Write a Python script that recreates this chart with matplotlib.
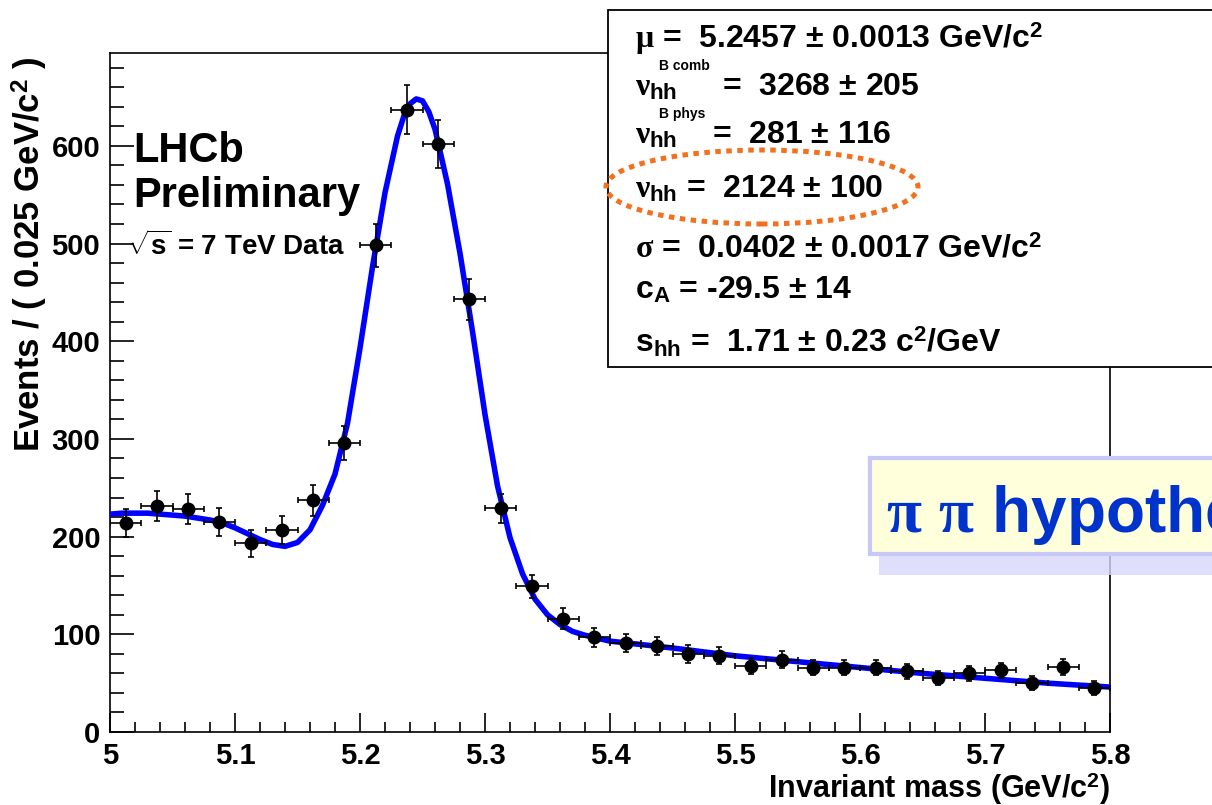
import numpy as np
import matplotlib.pyplot as plt
from matplotlib.patches import Rectangle, Ellipse
from matplotlib.ticker import MultipleLocator, FuncFormatter

# --- data ---
BIN_WIDTH = 0.025
bin_centers = [5.0125, 5.0375, 5.0625, 5.0875, 5.1125, 5.1375, 5.1625, 5.1875,
               5.2125, 5.2375, 5.2625, 5.2875, 5.3125, 5.3375, 5.3625, 5.3875,
               5.4125, 5.4375, 5.4625, 5.4875, 5.5125, 5.5375, 5.5625, 5.5875,
               5.6125, 5.6375, 5.6625, 5.6875, 5.7125, 5.7375, 5.7625, 5.7875]
counts = [214, 231, 228, 215, 193, 207, 237, 296,
          498, 637, 602, 443, 229, 149, 116, 97,
          91, 88, 80, 78, 68, 74, 66, 66,
          66, 62, 55, 60, 63, 50, 67, 45]
count_err = [14.6, 15.2, 15.1, 14.7, 13.9, 14.4, 15.4, 17.2,
             22.3, 25.2, 24.5, 21.0, 15.1, 12.2, 10.8, 9.8,
             9.5, 9.4, 8.9, 8.8, 8.2, 8.6, 8.1, 8.1,
             8.1, 7.9, 7.4, 7.7, 7.9, 7.1, 8.2, 6.7]

# fit curve (sampled from the plot)
curve_x = [5.00, 5.01, 5.02, 5.03, 5.04, 5.05, 5.06, 5.07, 5.08, 5.09,
           5.10, 5.11, 5.12, 5.13, 5.14, 5.15, 5.16, 5.17, 5.18, 5.19,
           5.20, 5.21, 5.22, 5.23, 5.235, 5.24, 5.245, 5.25, 5.255, 5.26,
           5.27, 5.28, 5.29, 5.30, 5.31, 5.32, 5.33, 5.34, 5.35, 5.36,
           5.37, 5.38, 5.39, 5.40, 5.45, 5.50, 5.55, 5.60, 5.65, 5.70,
           5.75, 5.80]
curve_y = [223, 224, 224, 224, 223, 222, 221, 219, 217, 214,
           209, 203, 197, 192, 190, 194, 207, 232, 264, 316,
           393, 476, 552, 610, 630, 643, 648, 646, 635, 617,
           561, 490, 410, 325, 252, 199, 162, 136, 120, 110,
           103, 99, 96, 93, 86, 78, 72, 66, 60, 55,
           50, 46]

# fit result box: (left part, right part or None, baseline px, x of right part)
fit_rows = [
    (r"$\mu$ =  5.2457 $\pm$ 0.0013 GeV/c$^{2}$", None, 48, None),
    (r"$\nu_{\mathrm{hh}}$", r"=  3268 $\pm$ 205", 95, 722),
    (r"$\nu_{\mathrm{hh}}$", r"=  281 $\pm$ 116", 143, 712),
    (r"$\nu_{\mathrm{hh}}$ =  2124 $\pm$ 100", None, 197, None),
    (r"$\sigma$ =  0.0402 $\pm$ 0.0017 GeV/c$^{2}$", None, 257, None),
    (r"c$_{\mathrm{A}}$ = -29.5 $\pm$ 14", None, 298, None),
    (r"s$_{\mathrm{hh}}$ =  1.71 $\pm$ 0.23 c$^{2}$/GeV", None, 352, None),
]
fit_superscripts = [("B comb", 70), ("B phys", 118)]

plt.rcParams['font.family'] = ['Liberation Sans', 'DejaVu Sans']
plt.rcParams['font.weight'] = 'bold'
plt.rcParams['axes.labelweight'] = 'bold'
plt.rcParams['mathtext.fontset'] = 'custom'
plt.rcParams['mathtext.rm'] = 'Liberation Sans:bold'
plt.rcParams['mathtext.bf'] = 'Liberation Sans:bold'
plt.rcParams['mathtext.sf'] = 'Liberation Sans:bold'
plt.rcParams['mathtext.it'] = 'Liberation Serif'

W, H = 1212, 805
fig = plt.figure(figsize=(W / 100, H / 100), dpi=100)
ax = fig.add_axes([110 / W, 1 - 732 / H, 1000 / W, 679 / H])


def fx(px):
    return px / W


def fy(py):
    return 1 - py / H


ax.plot(curve_x, curve_y, color='#0000ff', lw=4, zorder=3,
        solid_joinstyle='round')
ax.errorbar(bin_centers, counts, yerr=count_err, xerr=BIN_WIDTH / 2,
            fmt='o', color='black', ms=9, lw=1.2, capsize=2.5, capthick=1.2,
            zorder=4)

ax.set_xlim(5.0, 5.8)
ax.set_ylim(0, 695)
ax.xaxis.set_major_locator(MultipleLocator(0.1))
ax.xaxis.set_minor_locator(MultipleLocator(0.02))
ax.yaxis.set_major_locator(MultipleLocator(100))
ax.yaxis.set_minor_locator(MultipleLocator(20))
ax.xaxis.set_major_formatter(FuncFormatter(lambda v, p: f"{v:g}"))
ax.tick_params(which='both', direction='in', top=False, right=False,
               width=1.2, labelsize=21)
ax.tick_params(axis='y', which='major', length=17, pad=7)
ax.tick_params(axis='y', which='minor', length=10)
ax.tick_params(axis='x', which='major', length=14, pad=7)
ax.tick_params(axis='x', which='minor', length=7)
for s in ax.spines.values():
    s.set_linewidth(1.2)

ax.set_xlabel(r"Invariant mass (GeV/c$^{2}$)", fontsize=22, ha='right',
              va='baseline')
ax.xaxis.set_label_coords(1.0, -0.097)
ax.set_ylabel(r"Events / ( 0.025 GeV/c$^{2}$ )", fontsize=25, ha='right',
              va='center')
ax.yaxis.set_label_coords(-0.08, 0.995)

# LHCb labels
fig.text(fx(133), fy(162), "LHCb", fontsize=30, va='baseline')
fig.text(fx(133), fy(207), "Preliminary", fontsize=30, va='baseline')
fig.text(fx(127), fy(255), r"$\sqrt{\mathrm{s}}$ = 7 TeV Data", fontsize=20,
         va='baseline')

# fit parameter box
fig.add_artist(Rectangle((fx(608), fy(367)), 0.6, (367 - 10) / H,
                         transform=fig.transFigure, fc='white', ec='black',
                         lw=1.3, zorder=10))
for left, right, yb, xr in fit_rows:
    fig.text(fx(635), fy(yb), left, fontsize=23, va='baseline', zorder=11)
    if right is not None:
        fig.text(fx(xr), fy(yb), right, fontsize=23, va='baseline', zorder=11)
for sup, yb in fit_superscripts:
    fig.text(fx(659), fy(yb), sup, fontsize=10, va='baseline', zorder=11)

fig.add_artist(Ellipse((fx(762), fy(187)), 312 / W, 74 / H,
                       transform=fig.transFigure, fill=False, ec='#f2701e',
                       lw=3.6, ls=(0, (1.1, 1.1)), zorder=12))

# hypothesis label
fig.add_artist(Rectangle((fx(879), fy(575)), 0.5, (575 - 476) / H,
                         transform=fig.transFigure, fc='#d8d8fa', ec='none',
                         alpha=0.8, zorder=13))
fig.add_artist(Rectangle((fx(870), fy(554)), 0.5, (554 - 458) / H,
                         transform=fig.transFigure, fc='#ffffdc', ec='#c8c8f8',
                         lw=3, zorder=14))
fig.text(fx(886), fy(532), r"$\pi\ \pi$ hypothesis", fontsize=46,
         color='#0033cc', va='baseline', zorder=15)

fig.savefig("out.png", dpi=100)
